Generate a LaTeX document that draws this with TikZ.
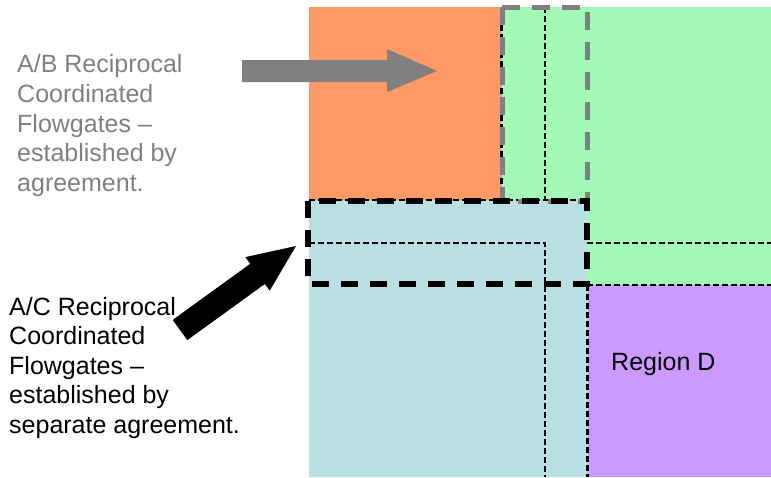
\documentclass[tikz,border=0pt]{standalone}
\usepackage{fontspec}
\setmainfont{Liberation Sans}
\definecolor{regA}{HTML}{FF9966}
\definecolor{regB}{HTML}{A3F9B6}
\definecolor{regC}{HTML}{BBE0E3}
\definecolor{regD}{HTML}{CC99FF}
\definecolor{midgray}{HTML}{808080}
\begin{document}
\begin{tikzpicture}[x=1pt,y=-1pt,
  thindash/.style={black, line width=2.8pt, dash pattern=on 6pt off 3pt},
  graydash/.style={draw=midgray, line width=5pt, dash pattern=on 18pt off 12pt},
  blackdash/.style={draw=black, line width=5.5pt, dash pattern=on 17pt off 12pt},
  lbl/.style={font=\fontsize{25}{30}\selectfont, inner sep=0pt, anchor=base west},
  graylbl/.style={lbl, text=midgray}]
\useasboundingbox (0,0) rectangle (771,477);
% regions
\fill[regA] (309,7) rectangle (501.5,200);
\fill[regB] (501.5,7) rectangle (771,285);
\fill[regC] (309,200) rectangle (587.5,477);
\fill[regD] (587.5,285) rectangle (771,477);
% thin dashed boundaries
\draw[thindash] (501.5,7) -- (501.5,200);
\draw[thindash] (545,7) -- (545,200);
\draw[thindash] (309,200) -- (587,200);
\draw[thindash] (309,243) -- (545,243) -- (545,477);
\draw[thindash] (587,243) -- (771,243);
\draw[thindash] (587,285) -- (771,285);
\draw[thindash] (587.5,285) -- (587.5,477);
% gray dashed rectangle (A/B flowgates)
\draw[graydash] (502,7) rectangle (587,201);
% black dashed rectangle (A/C flowgates)
\draw[blackdash] (308,201) rectangle (587,284);
% gray block arrow
\coordinate (gtail) at (242,71);
\coordinate (gtip) at (437,71);
\fill[midgray] (242,60) -- (387,60) -- (387,49) -- (gtip) -- (387,92) -- (387,82) -- (242,82) -- cycle;
% black block arrow
\coordinate (btip) at (296,246);
\fill[black] (172.7,319.9) -- (250.2,263.8) -- (245.4,257.1) -- (btip) -- (269.7,290.7) -- (264.8,284.0) -- (187.3,340.1) -- cycle;
% texts
\node[graylbl] (ab1) at (17,72) {A/B Reciprocal};
\node[graylbl] (ab2) at (17,102) {Coordinated};
\node[graylbl] (ab3) at (17,132) {Flowgates –};
\node[graylbl] (ab4) at (17,161.5) {established by};
\node[graylbl] (ab5) at (17,191) {agreement.};
\node[lbl] (ac1) at (9,315) {A/C Reciprocal};
\node[lbl] (ac2) at (9,344.5) {Coordinated};
\node[lbl] (ac3) at (9,374) {Flowgates –};
\node[lbl] (ac4) at (9,403.5) {established by};
\node[lbl] (ac5) at (9,433) {separate agreement.};
\node[lbl] (rd) at (611,370) {Region D};
\end{tikzpicture}
\end{document}
